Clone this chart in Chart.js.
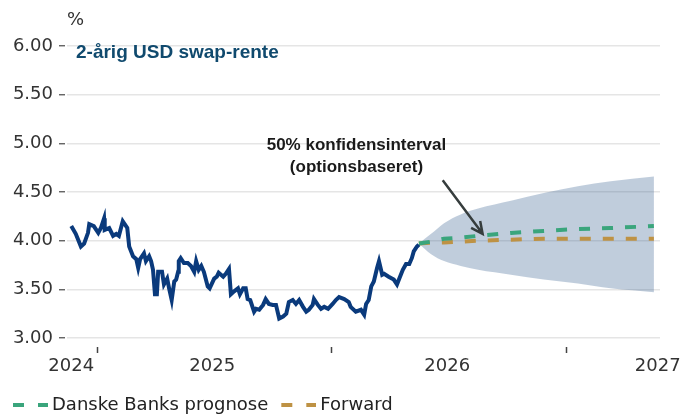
<!DOCTYPE html>
<html>
<head>
<meta charset="utf-8">
<script src="https://cdn.jsdelivr.net/npm/chart.js@4"></script>
<style>
    html, body { margin: 0; padding: 0; background: #fff; }
    #wrap { width: 694px; height: 416px; }
</style>
</head>
<body>
<div id="wrap"><canvas id="chart" width="694" height="416"></canvas></div>
<script>
// days counted from 1 Jan 2025
const histDays = [-40,-33,-25,-20,-14,-12,-5,2,6,11, 12,19,25,30,34,40,47,50,56,61,
    64,67,73,76,81,84,87,90,93,95, 101,104,109,112,116,120,123,126,127,130,
    135,141,146,151,154,158,162,166,172,175, 182,186,189,196,200,205,208,213,219,222,
    227,231,234,238,244,247,252,258,262,267, 273,278,283,289,294,298,304,309,314,320,
    325,329,335,337,343,348,353,359,366,371, 376,384,391,394,402,410,415,418,422,426,
    430,435,438,443,446,453,461,466,469,475, 480,485,489,492,497,500];
const histRate = [4.15,4.07,3.94,3.97,4.08,4.17,4.15,4.08,4.13,4.23, 4.11,4.13,4.05,4.07,4.05,4.20,4.13,3.94,3.84,3.81,
    3.72,3.81,3.87,3.79,3.84,3.79,3.70,3.45,3.45,3.68, 3.68,3.55,3.61,3.51,3.39,3.58,3.60,3.68,3.79,3.82,
    3.77,3.77,3.74,3.68,3.79,3.70,3.74,3.68,3.53,3.51, 3.61,3.63,3.67,3.63,3.66,3.71,3.45,3.48,3.51,3.45,
    3.51,3.51,3.40,3.39,3.27,3.30,3.29,3.34,3.40,3.35, 3.34,3.34,3.20,3.22,3.25,3.37,3.39,3.35,3.39,3.32,
    3.27,3.29,3.34,3.40,3.34,3.30,3.32,3.30,3.35,3.39, 3.42,3.40,3.37,3.32,3.27,3.29,3.24,3.35,3.39,3.53,
    3.58,3.72,3.79,3.65,3.66,3.63,3.60,3.55,3.60,3.70, 3.76,3.76,3.82,3.89,3.94,3.96];

const fcDays = [500, 519, 539, 565, 592, 643, 694, 747, 798, 865];
const danske = [3.97, 3.99, 4.02, 4.03, 4.05, 4.08, 4.10, 4.12, 4.13, 4.15];
const forward = [3.97, 3.98, 3.98, 3.99, 4.00, 4.01, 4.02, 4.02, 4.02, 4.02];
const bandHigh = [3.97, 4.07, 4.18, 4.27, 4.33, 4.41, 4.49, 4.56, 4.61, 4.66];
const bandLow = [3.97, 3.86, 3.79, 3.74, 3.70, 3.65, 3.60, 3.56, 3.51, 3.47];

const yearMarks = [0, 365, 730];
const yearLabels = [[-40, '2024'], [179, '2025'], [544, '2026'], [871, '2027']];

const green = '#3aa57c';
const gold = '#be9244';
const navy = '#0a3a7c';

function pts(xs, ys) {
    return xs.map((x, i) => ({ x: x, y: ys[i] }));
}

// little "- -" swatch for the legend
function dashIcon(color) {
    let c = document.createElement('canvas');
    c.width = 50;
    c.height = 8;
    let g = c.getContext('2d');
    g.fillStyle = color;
    g.fillRect(15, 2, 11, 4);
    g.fillRect(40, 2, 10, 4);
    return c;
}

const extras = {
    id: 'extras',
    afterDatasetsDraw(chart) {
        const ctx = chart.ctx;
        const x = chart.scales.x, y = chart.scales.y;
        ctx.save();
        ctx.textBaseline = 'middle';
        ctx.fillStyle = '#333';
        ctx.font = '18px "DejaVu Sans"';
        ctx.textAlign = 'left';
        ctx.fillText('%', 67, 20);

        ctx.fillStyle = '#104a6e';
        ctx.font = 'bold 19px "Liberation Sans"';
        ctx.fillText('2-årig USD swap-rente', 76, 53);

        ctx.fillStyle = '#1a1a1a';
        ctx.font = 'bold 17px "Liberation Sans"';
        ctx.textAlign = 'center';
        const tx = x.getPixelForValue(403);
        ctx.fillText('50% konfidensinterval', tx, y.getPixelForValue(4.98));
        ctx.fillText('(optionsbaseret)', tx, y.getPixelForValue(4.75));

        // arrow to the band
        const x1 = x.getPixelForValue(537), y1 = y.getPixelForValue(4.62);
        const x2 = x.getPixelForValue(599), y2 = y.getPixelForValue(4.07);
        ctx.strokeStyle = '#363d3d';
        ctx.lineWidth = 2.5;
        ctx.beginPath();
        ctx.moveTo(x1, y1);
        ctx.lineTo(x2, y2);
        const a = Math.atan2(y2 - y1, x2 - x1);
        ctx.moveTo(x2 - 13 * Math.cos(a - 0.45), y2 - 13 * Math.sin(a - 0.45));
        ctx.lineTo(x2, y2);
        ctx.lineTo(x2 - 13 * Math.cos(a + 0.45), y2 - 13 * Math.sin(a + 0.45));
        ctx.stroke();
        ctx.restore();
    }
};

const chart = new Chart(document.getElementById('chart'), {
    type: 'line',
    data: {
        datasets: [{
            label: 'USD 2y',
            data: pts(histDays, histRate),
            borderColor: navy,
            borderWidth: 4,
            pointRadius: 0,
            tension: 0
        }, {
            label: 'Danske Banks prognose',
            data: pts(fcDays, danske),
            borderColor: green,
            borderWidth: 4,
            borderDash: [11, 12],
            pointRadius: 0,
            pointStyle: dashIcon(green)
        }, {
            label: 'Forward',
            data: pts(fcDays, forward),
            borderColor: gold,
            borderWidth: 4,
            borderDash: [11, 12],
            pointRadius: 0,
            pointStyle: dashIcon(gold)
        }, {
            label: 'high',
            data: pts(fcDays, bandHigh),
            borderWidth: 0,
            pointRadius: 0,
            cubicInterpolationMode: 'monotone',
            fill: false
        }, {
            label: 'low',
            data: pts(fcDays, bandLow),
            borderWidth: 0,
            pointRadius: 0,
            cubicInterpolationMode: 'monotone',
            backgroundColor: 'rgba(48, 88, 138, 0.3)',
            fill: '-1'
        }]
    },
    options: {
        responsive: false,
        animation: false,
        layout: { padding: { top: 46, right: 34, left: 0, bottom: -8 } },
        scales: {
            x: {
                type: 'linear',
                min: -46.6,
                max: 874.5,
                border: { display: false },
                afterBuildTicks: function(s) {
                    let t = yearMarks.map(v => ({ value: v }));
                    yearLabels.forEach(l => t.push({ value: l[0] }));
                    t.sort((a, b) => a.value - b.value);
                    s.ticks = t;
                },
                afterFit: function(s) { s.height = 55; },
                grid: {
                    drawOnChartArea: false,
                    tickLength: 15,
                    tickWidth: 1.5,
                    tickBorderDash: [0, 9, 6, 30],
                    tickColor: c => yearMarks.includes(c.tick && c.tick.value) ? '#444' : 'rgba(0,0,0,0)'
                },
                ticks: {
                    autoSkip: false,
                    maxRotation: 0,
                    padding: 3,
                    color: '#333',
                    font: { family: 'DejaVu Sans', size: 18 },
                    callback: function(v) {
                        let l = yearLabels.find(p => p[0] === v);
                        return l ? l[1] : '';
                    }
                }
            },
            y: {
                min: 3,
                max: 6,
                border: { display: false },
                afterFit: function(s) { s.width = 67; },
                grid: {
                    color: '#e5e5e5',
                    lineWidth: 1.5,
                    tickLength: 8,
                    tickColor: '#555',
                    tickWidth: 1.3,
                    tickBorderDash: [6, 20]
                },
                ticks: {
                    stepSize: 0.5,
                    padding: 6,
                    color: '#333',
                    font: { family: 'DejaVu Sans', size: 18 },
                    callback: v => v.toFixed(2)
                }
            }
        },
        plugins: {
            tooltip: { enabled: false },
            legend: {
                position: 'bottom',
                align: 'start',
                labels: {
                    usePointStyle: true,
                    pointStyleWidth: 40,
                    padding: 3,
                    color: '#222',
                    font: { family: 'DejaVu Sans', size: 18 },
                    filter: item => item.datasetIndex === 1 || item.datasetIndex === 2
                }
            }
        }
    },
    plugins: [extras]
});
</script>
</body>
</html>
